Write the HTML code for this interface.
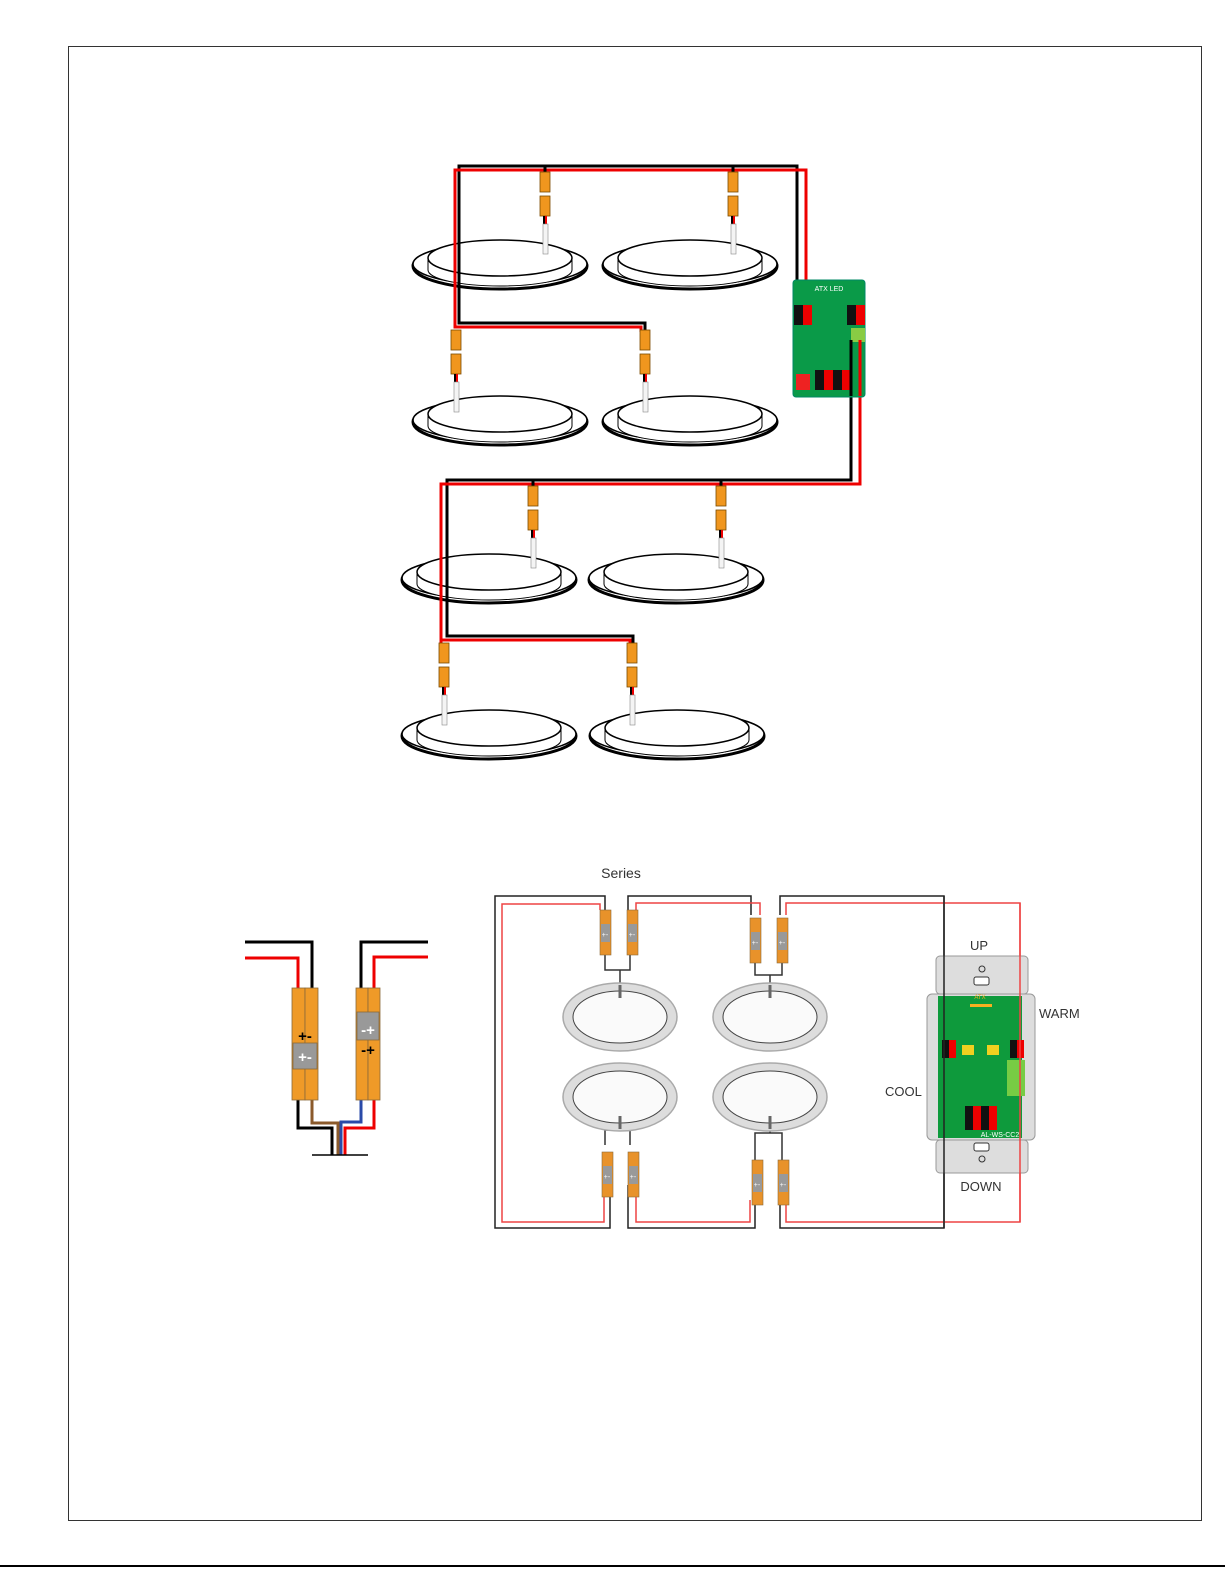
<!DOCTYPE html>
<html><head><style>
html,body{margin:0;padding:0;background:#fff;}
svg{display:block;}
text{font-family:"Liberation Sans",sans-serif;}
</style></head><body>
<svg width="1225" height="1585" viewBox="0 0 1225 1585" xmlns="http://www.w3.org/2000/svg">
<defs>
<g id="fix">
 <ellipse cx="0" cy="2" rx="87" ry="23" fill="#fff" stroke="#000" stroke-width="3"/>
 <ellipse cx="0" cy="0" rx="87" ry="21" fill="#fff" stroke="#000" stroke-width="1.5"/>
 <path d="M-72 -6 L-72 6 A72 16 0 0 0 72 6 L72 -6" fill="#fff" stroke="#000" stroke-width="1"/>
 <ellipse cx="0" cy="-6" rx="72" ry="18" fill="#fff" stroke="#000" stroke-width="1.5"/>
</g>
<g id="conn">
 <rect x="-5" y="0" width="10" height="20" fill="#f0961e" stroke="#7a4a00" stroke-width="0.8"/>
 <rect x="-5" y="24" width="10" height="20" fill="#f0961e" stroke="#7a4a00" stroke-width="0.8"/>
 <rect x="-2" y="44" width="4" height="8" fill="#000"/>
 <rect x="0" y="44" width="2" height="8" fill="#e00"/>
 <rect x="-2" y="52" width="5" height="30" fill="#f4f4f4" stroke="#888" stroke-width="0.6"/>
</g>
<g id="sc">
 <rect x="-5" y="0" width="11" height="45" fill="#e8922a" stroke="#8a6a3a" stroke-width="0.6"/>
 <rect x="-4" y="14" width="9" height="18" fill="#999"/>
 <text x="0" y="27" font-size="7" text-anchor="middle" fill="#fff">+-</text>
</g>
<g id="ring">
 <ellipse cx="0" cy="0" rx="57" ry="34" fill="#ddd" stroke="#aaa" stroke-width="1.5"/>
 <ellipse cx="0" cy="0" rx="47" ry="26" fill="#fafafa" stroke="#444" stroke-width="1"/>
</g>
</defs>
<rect x="68.5" y="46.5" width="1133" height="1474" fill="none" stroke="#333" stroke-width="1"/>
<line x1="0" y1="1566" x2="1225" y2="1566" stroke="#000" stroke-width="2"/>

<!-- TOP SECTION -->
<use href="#fix" x="500" y="264"/>
<use href="#fix" x="690" y="264"/>
<use href="#fix" x="500" y="420"/>
<use href="#fix" x="690" y="420"/>
<use href="#fix" x="489" y="578"/>
<use href="#fix" x="676" y="578"/>
<use href="#fix" x="489" y="734"/>
<use href="#fix" x="677" y="734"/>

<g fill="none" stroke-width="3">
 <path d="M797 305 V166 H459 V323 H645 V332" stroke="#000"/>
 <path d="M806 305 V170 H455 V327 H641 V332" stroke="#e00"/>
 <path d="M851 340 V480 H447 V636 H633 V645" stroke="#000"/>
 <path d="M860 340 V484 H441 V645" stroke="#e00"/>
 <path d="M441 640 H630 V645" stroke="#e00"/>
 <path d="M545 166 V172 M733 166 V172 M533 480 V486 M721 480 V486" stroke="#000"/>
</g>
<use href="#conn" x="545" y="172"/>
<use href="#conn" x="733" y="172"/>
<use href="#conn" x="456" y="330"/>
<use href="#conn" x="645" y="330"/>
<use href="#conn" x="533" y="486"/>
<use href="#conn" x="721" y="486"/>
<use href="#conn" x="444" y="643"/>
<use href="#conn" x="632" y="643"/>

<!-- board -->
<rect x="793" y="280" width="72" height="117" rx="3" fill="#0a9a48" stroke="#086"/>
<text x="829" y="291" font-size="7" fill="#fff" text-anchor="middle">ATX LED</text>
<rect x="794" y="305" width="9" height="20" fill="#111"/><rect x="803" y="305" width="9" height="20" fill="#e00"/>
<rect x="847" y="305" width="9" height="20" fill="#111"/><rect x="856" y="305" width="9" height="20" fill="#e00"/>
<rect x="851" y="328" width="14" height="14" fill="#8c4"/>
<rect x="796" y="374" width="14" height="16" fill="#e22"/>
<rect x="815" y="370" width="9" height="20" fill="#111"/><rect x="824" y="370" width="9" height="20" fill="#e00"/>
<rect x="833" y="370" width="9" height="20" fill="#111"/><rect x="842" y="370" width="9" height="20" fill="#e00"/>
<path d="M851 340 V396 M860 340 V396" stroke-width="3" fill="none" stroke="#000"/>
<path d="M860 340 V396" stroke-width="3" fill="none" stroke="#e00"/>

<!-- BOTTOM SECTION -->
<text x="621" y="878" font-size="14" fill="#333" text-anchor="middle">Series</text>

<!-- splice diagram -->
<g fill="none" stroke-width="3">
 <path d="M245 942 H312 V990" stroke="#000"/>
 <path d="M245 958 H298 V990" stroke="#e00"/>
 <path d="M428 942 H361 V990" stroke="#000"/>
 <path d="M428 957 H374 V990" stroke="#e00"/>
 <path d="M298 1100 V1128 H332 V1155" stroke="#000"/>
 <path d="M312 1100 V1123 H338 V1155" stroke="#8b5a2b"/>
 <path d="M361 1100 V1122 H341 V1155" stroke="#2a4aa8"/>
 <path d="M374 1100 V1128 H345 V1155" stroke="#e00"/>
</g>
<line x1="312" y1="1155" x2="368" y2="1155" stroke="#000" stroke-width="1.5"/>
<g stroke="#8a6a3a" stroke-width="0.8">
 <rect x="292" y="988" width="13" height="112" fill="#ef9a28"/><rect x="305" y="988" width="13" height="112" fill="#ef9a28"/>
 <rect x="356" y="988" width="12" height="112" fill="#ef9a28"/><rect x="368" y="988" width="12" height="112" fill="#ef9a28"/>
 <rect x="293" y="1043" width="24" height="26" fill="#999"/>
 <rect x="357" y="1012" width="22" height="28" fill="#999"/>
</g>
<text x="305" y="1041" font-size="15" font-weight="bold" text-anchor="middle" fill="#000">+-</text>
<text x="305" y="1062" font-size="15" font-weight="bold" text-anchor="middle" fill="#fff">+-</text>
<text x="368" y="1035" font-size="15" font-weight="bold" text-anchor="middle" fill="#fff">-+</text>
<text x="368" y="1055" font-size="15" font-weight="bold" text-anchor="middle" fill="#000">-+</text>

<!-- series loop wires -->
<g fill="none" stroke-width="1.5">
 <path d="M605 910 V896 H495 V1228 H610 V1185" stroke="#222"/>
 <path d="M600 910 V904 H502 V1222 H604 V1185" stroke="#e44"/>
 <path d="M628 910 V896 H751 V915" stroke="#222"/>
 <path d="M636 910 V903 H760 V915" stroke="#e44"/>
 <path d="M780 915 V896 H944 V1228 H780 V1200" stroke="#222"/>
 <path d="M786 915 V903 H1020 V1222 H786 V1200" stroke="#e44"/>
 <path d="M628 1185 V1228 H755 V1200" stroke="#222"/>
 <path d="M636 1185 V1222 H750 V1200" stroke="#e44"/>
 <path d="M605 955 V970 H630 V955 M620 970 V990" stroke="#333"/>
 <path d="M755 963 V975 H782 V963 M770 975 V990" stroke="#333"/>
 <path d="M605 1145 V1130 H630 V1145 M620 1130 V1120" stroke="#333"/>
 <path d="M755 1160 V1133 H782 V1160 M770 1133 V1120" stroke="#333"/>
</g>
<use href="#ring" x="620" y="1017"/>
<use href="#ring" x="770" y="1017"/>
<use href="#ring" x="620" y="1097"/>
<use href="#ring" x="770" y="1097"/>
<g fill="none" stroke="#666" stroke-width="3"><path d="M620 985 V998 M770 985 V998 M620 1116 V1129 M770 1116 V1129"/></g>
<use href="#sc" x="605" y="910"/>
<use href="#sc" x="632" y="910"/>
<use href="#sc" x="755" y="918"/>
<use href="#sc" x="782" y="918"/>
<use href="#sc" x="607" y="1152"/>
<use href="#sc" x="633" y="1152"/>
<use href="#sc" x="757" y="1160"/>
<use href="#sc" x="783" y="1160"/>

<!-- switch -->
<rect x="936" y="956" width="92" height="38" rx="4" fill="#ddd" stroke="#999"/>
<rect x="936" y="1140" width="92" height="33" rx="4" fill="#ddd" stroke="#999"/>
<rect x="927" y="994" width="108" height="146" rx="5" fill="#ddd" stroke="#999"/>
<rect x="938" y="996" width="84" height="142" fill="#0e9a3c"/>
<rect x="974" y="977" width="15" height="8" rx="2" fill="#fff" stroke="#333"/>
<circle cx="982" cy="969" r="3" fill="none" stroke="#333"/>
<rect x="974" y="1165" width="15" height="8" rx="2" fill="#fff" stroke="#333" transform="translate(0,-22)"/>
<circle cx="982" cy="1159" r="3" fill="none" stroke="#333"/>
<text x="980" y="999" font-size="6" fill="#f8b020" text-anchor="middle">ATX</text>
<rect x="970" y="1004" width="22" height="3" fill="#f8b020"/>
<rect x="942" y="1040" width="7" height="18" fill="#111"/><rect x="949" y="1040" width="7" height="18" fill="#e00"/>
<rect x="1010" y="1040" width="7" height="18" fill="#111"/><rect x="1017" y="1040" width="7" height="18" fill="#e00"/>
<rect x="962" y="1045" width="12" height="10" fill="#f0d020"/><rect x="987" y="1045" width="12" height="10" fill="#f0d020"/>
<rect x="1007" y="1060" width="18" height="36" fill="#7c4"/>
<rect x="965" y="1106" width="8" height="24" fill="#111"/><rect x="973" y="1106" width="8" height="24" fill="#e00"/>
<rect x="981" y="1106" width="8" height="24" fill="#111"/><rect x="989" y="1106" width="8" height="24" fill="#e00"/>
<text x="1000" y="1137" font-size="7" fill="#fff" text-anchor="middle">AL-WS-CC2</text>
<path d="M944 896 V1228" stroke="#222" stroke-width="1.5"/>
<path d="M1020 903 V1222" stroke="#e44" stroke-width="1.5"/>
<text x="979" y="950" font-size="13" fill="#333" text-anchor="middle">UP</text>
<text x="1039" y="1018" font-size="13" fill="#333">WARM</text>
<text x="885" y="1096" font-size="13" fill="#333">COOL</text>
<text x="981" y="1191" font-size="13" fill="#333" text-anchor="middle">DOWN</text>
</svg>
</body></html>
